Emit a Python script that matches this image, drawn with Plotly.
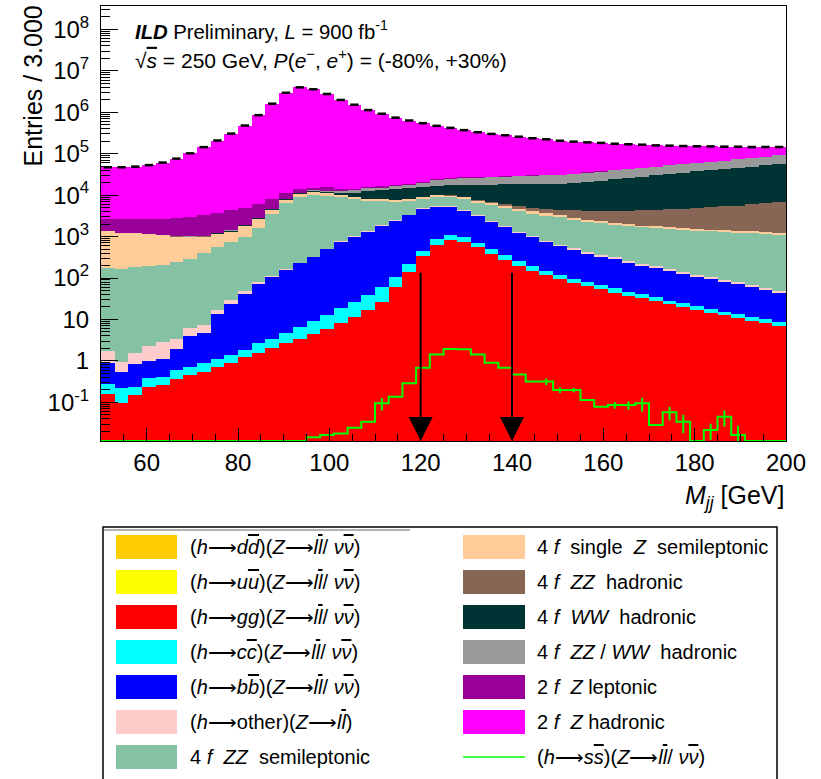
import numpy as np
import plotly.graph_objects as go

# ---- binning: 50 bins of 3 GeV between 50 and 200 GeV ----
N_BINS = 50
X_LO, X_HI = 50.0, 200.0
BIN_W = (X_HI - X_LO) / N_BINS
edges = X_LO + BIN_W * np.arange(N_BINS + 1)
centers = edges[:-1] + BIN_W / 2

# ---- THStack heights: each list is the running sum up to and including that process ----
stack_hdd = [0.0] * N_BINS
stack_huu = [0.0] * N_BINS
stack_hgg = [0.16, 0.098, 0.148, 0.24, 0.26, 0.36, 0.46, 0.55, 0.70, 0.91,
             1.22, 1.52, 2.0, 2.66, 3.3, 4.5, 6.0, 8.4, 11.7, 16.9,
             26.9, 60, 140, 340, 625, 830, 755, 550, 380, 272,
             200, 151, 118, 93, 77, 64, 54, 44.3, 37, 32.5,
             27.4, 23.2, 19.6, 16.9, 14.6, 12.6, 10.8, 9.3, 8.1, 6.9]
stack_hcc = [0.28, 0.22, 0.24, 0.39, 0.40, 0.60, 0.70, 0.875, 1.11, 1.39,
             1.83, 2.75, 3.4, 4.6, 6.5, 9.2, 13, 18.6, 27, 39,
             60, 108, 215, 448, 860, 1070, 980, 710, 493, 354,
             258, 195, 151, 118, 96, 81, 69, 57, 47, 41,
             34, 28.3, 24.5, 21, 17.6, 15.4, 13.5, 11.7, 10, 8.7]
stack_hbb = [0.9, 0.55, 0.86, 0.98, 1.11, 1.9, 4.0, 4.6, 13.3, 24,
             41, 70, 104, 156, 226, 315, 490, 740, 1000, 1300,
             1800, 2340, 3250, 4550, 5250, 5070, 4200, 3150, 2280, 1670,
             1240, 960, 755, 590, 475, 380, 327, 282, 235, 198,
             172, 148, 125, 108, 93, 81, 70.5, 60.7, 51.5, 42.7]
stack_hother = [1.76, 0.96, 1.52, 2.33, 2.8, 3.4, 6.1, 7.5, 16.9, 29.5,
                48.5, 79, 114, 165, 235, 325, 515, 775, 1050, 1365,
                1890, 2460, 3410, 4770, 5500, 5320, 4410, 3310, 2400, 1760,
                1310, 1015, 800, 630, 530, 425, 366, 316, 263, 222,
                193, 166, 140, 121, 104, 91, 79, 68, 58, 48]
stack_4f_zz_sl = [178, 168, 187, 195, 205, 244, 293, 395, 550, 755,
                  1000, 1610, 3500, 6600, 9200, 10200, 9500, 8900, 7950, 7330,
                  7200, 6840, 7200, 7950, 8900, 8900, 7950, 6600, 5700, 4800,
                  4070, 3500, 3150, 2920, 2500, 2290, 2090, 1910, 1800, 1670,
                  1590, 1500, 1450, 1390, 1335, 1290, 1245, 1200, 1150, 1110]
stack_4f_sz_sl = [1380, 1200, 1200, 1135, 1070, 1000, 960, 1000, 1150, 1310,
                  1800, 2630, 4370, 7600, 10500, 12000, 11000, 10000, 8900, 8200,
                  8000, 7600, 8100, 8900, 9900, 9800, 8900, 7330, 6300, 5450,
                  4700, 4070, 3630, 3320, 2780, 2540, 2320, 2120, 2000, 1850,
                  1760, 1670, 1610, 1540, 1480, 1430, 1380, 1330, 1280, 1240]
stack_4f_zz_h = [1385, 1205, 1205, 1140, 1075, 1006, 967, 1008, 1160, 1322,
                 1815, 2650, 4400, 7640, 10550, 12055, 11060, 10065, 8970, 8275,
                 8080, 7685, 8195, 9010, 10030, 9960, 9100, 7630, 6720, 6000,
                 5380, 4870, 4550, 4370, 4370, 4220, 4220, 4220, 4220, 4300,
                 4370, 4550, 4700, 4900, 5070, 5370, 5560, 6000, 6330, 6700]
stack_4f_ww_h = [1395, 1215, 1215, 1155, 1090, 1025, 997, 1048, 1220, 1400,
                 1915, 2800, 4650, 8040, 11050, 12850, 12060, 11500, 11500, 12500,
                 13300, 13800, 14600, 15900, 16800, 17200, 17400, 17600, 17900, 18200,
                 18400, 18500, 18550, 18600, 19300, 21100, 22300, 24000, 25900, 27900,
                 30000, 32300, 34800, 37600, 40500, 43600, 46000, 49000, 52700, 56500]
stack_4f_zzww_h = [1400, 1220, 1220, 1160, 1100, 1030, 1005, 1060, 1235, 1420,
                   1945, 2840, 4710, 8140, 11200, 13150, 12560, 12500, 13000, 14500,
                   15200, 16300, 17600, 20000, 23000, 24500, 25500, 26300, 27000, 27800,
                   28600, 29400, 30100, 30700, 32300, 34800, 36800, 39700, 42800, 45200,
                   48500, 52300, 56400, 60700, 63900, 67600, 73200, 77600, 84500, 93000]
stack_2f_z_l = [2700, 2620, 2620, 2650, 2700, 2800, 2920, 3320, 3800, 4370,
                4900, 6000, 7950, 11000, 14300, 15100, 15400, 14000, 14400, 15800,
                16400, 17500, 18800, 21200, 24300, 25800, 26700, 27400, 28000, 28700,
                29400, 30100, 30700, 31200, 32750, 35220, 37200, 40080, 43160, 45540,
                48820, 52600, 56690, 60980, 64170, 67860, 73450, 77840, 84730, 93220]
stack_2f_z_h = [47000, 47000, 48700, 53000, 61000, 76000, 102000, 144000, 208000, 305000,
                478000, 850000, 1610000, 2950000, 3990000, 3580000, 2760000, 1980000, 1520000, 1130000,
                920000, 740000, 632000, 545000, 470000, 420000, 370000, 330000, 300000, 278000,
                257000, 236000, 223000, 205000, 195000, 188000, 182000, 174000, 169000, 165000,
                159000, 156000, 153000, 151000, 150000, 148000, 147000, 145000, 145000, 145000]

# ---- h -> s sbar signal, drawn as an unstacked line with its MC errors ----
h_ss = [0, 0, 0, 0, 0, 0, 0, 0, 0, 0,
        0, 0, 0, 0, 0, 0.0144, 0.0163, 0.0178, 0.0245, 0.034,
        0.095, 0.137, 0.29, 0.685, 1.42, 1.94, 1.92, 1.42, 0.905, 0.685,
        0.47, 0.32, 0.32, 0.199, 0.199, 0.114, 0.0785, 0.086, 0.086, 0.0945,
        0.0284, 0.0575, 0.034, 0, 0.0215, 0.045, 0.0163, 0, 0, 0]
h_ss_err = [0, 0, 0, 0, 0, 0, 0, 0, 0, 0,
            0, 0, 0, 0, 0, 0, 0, 0, 0, 0,
            0.032, 0, 0, 0, 0, 0, 0, 0, 0, 0,
            0, 0, 0.06, 0.03, 0.025, 0, 0, 0.016, 0.02, 0.035,
            0, 0.021, 0.016, 0, 0.009, 0.019, 0.011, 0, 0, 0]

# ---- mass window cuts shown as arrows ----
cut_values = [120, 140]
cut_arrow_top = 145

# ---- process styling (bottom of the stack first) ----
stack_lists = [stack_hdd, stack_huu, stack_hgg, stack_hcc, stack_hbb, stack_hother,
               stack_4f_zz_sl, stack_4f_sz_sl, stack_4f_zz_h, stack_4f_ww_h,
               stack_4f_zzww_h, stack_2f_z_l, stack_2f_z_h]
stack_colors = ["#FFCC00", "#FFFF00", "#FF0000", "#00FFFF", "#0000FF", "#FFCCCC",
                "#85C1A3", "#FFCC99", "#876656", "#003333", "#999999", "#990099",
                "#FF00FF"]
SS_COLOR = "#00FF00"


def bar(s):
    """antiparticle: letter with an overline"""
    return f"<span style='text-decoration:overline'>{s}</span>"


NB = "\u00a0"
ARR = "\u27f6"
ZLL = f"(<i>Z</i>{ARR}<i>l{bar('l')}</i>/{NB}<i>ν{bar('ν')}</i>)"
stack_labels = [
    f"(<i>h</i>{ARR}<i>d{bar('d')}</i>){ZLL}",
    f"(<i>h</i>{ARR}<i>u{bar('u')}</i>){ZLL}",
    f"(<i>h</i>{ARR}<i>gg</i>){ZLL}",
    f"(<i>h</i>{ARR}<i>c{bar('c')}</i>){ZLL}",
    f"(<i>h</i>{ARR}<i>b{bar('b')}</i>){ZLL}",
    f"(<i>h</i>{ARR}other)(<i>Z</i>{ARR}<i>l{bar('l')}</i>)",
    f"4<i>{NB}f</i>{NB}{NB}<i>ZZ</i>{NB}{NB}semileptonic",
    f"4<i>{NB}f</i>{NB}{NB}single{NB}{NB}<i>Z</i>{NB}{NB}semileptonic",
    f"4<i>{NB}f</i>{NB}{NB}<i>ZZ</i>{NB}{NB}hadronic",
    f"4<i>{NB}f</i>{NB}{NB}<i>WW</i>{NB}{NB}hadronic",
    f"4<i>{NB}f</i>{NB}{NB}<i>ZZ</i>{NB}/{NB}<i>WW</i>{NB}{NB}hadronic",
    f"2<i>{NB}f</i>{NB}{NB}<i>Z</i>{NB}leptonic",
    f"2<i>{NB}f</i>{NB}{NB}<i>Z</i>{NB}hadronic",
]
ss_label = f"(<i>h</i>{ARR}<i>s{bar('s')}</i>){ZLL}"

FONT = "Liberation Sans, Arial, Helvetica, sans-serif"
Y_LOG_MIN, Y_LOG_MAX = -1.933, 8.564
y_floor = 10 ** Y_LOG_MIN

fig = go.Figure()

# THStack style: every cumulative histogram filled from the axis, top process first
for vals, col in reversed(list(zip(stack_lists, stack_colors))):
    fig.add_trace(go.Bar(x=centers, y=vals, width=BIN_W, marker_color=col,
                         marker_line_width=0, showlegend=False, hoverinfo="skip"))

# short black markers on top of the stack total
fig.add_trace(go.Scatter(x=centers, y=stack_2f_z_h, mode="markers",
                         marker=dict(symbol="line-ew", size=6,
                                     line=dict(width=2.5, color="black")),
                         showlegend=False, hoverinfo="skip"))

# signal histogram outline; empty bins run along the lower edge of the frame
ss = np.asarray(h_ss, dtype=float)
ss_drawn = np.where(ss > 0, ss, y_floor)
fig.add_trace(go.Scatter(x=edges, y=np.append(ss_drawn, ss_drawn[-1]), mode="lines",
                         line=dict(color=SS_COLOR, width=2, shape="hv"),
                         showlegend=False, hoverinfo="skip"))
err = np.asarray(h_ss_err, dtype=float)
sel = err > 0
fig.add_trace(go.Scatter(x=centers[sel], y=ss[sel], mode="markers",
                         marker=dict(size=1, color=SS_COLOR),
                         error_y=dict(type="data", array=err[sel], thickness=2,
                                      width=0, color=SS_COLOR),
                         showlegend=False, hoverinfo="skip"))

# cut arrows
for xc in cut_values:
    fig.add_annotation(x=xc, y=Y_LOG_MIN, ax=xc, ay=np.log10(cut_arrow_top),
                       xref="x", yref="y", axref="x", ayref="y", text="",
                       showarrow=True, arrowhead=2, arrowsize=2.4, arrowwidth=2,
                       arrowcolor="black")

# ---- frame geometry (pixels) ----
W, H = 821, 779
PL, PR, PT, PB = 101, 786, 6, 441


def xp(px):
    return (px - PL) / (PR - PL)


def yp(py):
    return (PB - py) / (PB - PT)


decades = list(range(-1, 9))
y_tickvals = [10.0 ** d for d in decades]
y_ticktext = ["10<sup>-1</sup>" if d == -1 else "1" if d == 0 else "10" if d == 1
              else f"10<sup>{d}</sup>" for d in decades]
y_minor = [m * 10.0 ** d for d in range(-2, 9) for m in range(2, 10)]

fig.update_layout(
    width=W, height=H,
    margin=dict(l=PL, r=W - PR, t=PT, b=H - PB, pad=0),
    paper_bgcolor="white", plot_bgcolor="white",
    barmode="overlay", bargap=0, showlegend=False,
    font=dict(family=FONT, color="black"),
)
fig.update_xaxes(range=[X_LO, X_HI], tickmode="linear", tick0=0, dtick=20,
                 ticks="inside", ticklen=13, tickwidth=1, tickcolor="black",
                 minor=dict(ticks="inside", tick0=0, dtick=5, ticklen=7,
                            tickwidth=1, tickcolor="black"),
                 showline=True, mirror=True, linecolor="black", linewidth=1,
                 showgrid=False, zeroline=False, tickfont=dict(size=24),
                 ticklabelstandoff=0)
fig.update_yaxes(type="log", range=[Y_LOG_MIN, Y_LOG_MAX], tickmode="array",
                 tickvals=y_tickvals, ticktext=y_ticktext,
                 ticks="inside", ticklen=17, tickwidth=1, tickcolor="black",
                 minor=dict(tickmode="array", tickvals=y_minor, ticks="inside",
                            ticklen=9, tickwidth=1, tickcolor="black"),
                 showline=True, mirror=True, linecolor="black", linewidth=1,
                 showgrid=False, zeroline=False, tickfont=dict(size=24),
                 ticklabelstandoff=6)

# axis titles
fig.add_annotation(xref="paper", yref="paper", x=xp(33), y=yp(4), text="Entries / 3.000",
                   textangle=-90, showarrow=False, xanchor="center", yanchor="top",
                   font=dict(size=25))
fig.add_annotation(xref="paper", yref="paper", x=xp(786), y=yp(497),
                   text="<i>M</i><sub><i>jj</i></sub> [GeV]", showarrow=False,
                   xanchor="right", yanchor="middle", font=dict(size=25))

# header text
fig.add_annotation(xref="paper", yref="paper", x=xp(133), y=yp(30),
                   text="<b><i>ILD</i></b> Preliminary, <i>L</i> = 900 fb<sup>-1</sup>",
                   showarrow=False, xanchor="left", yanchor="middle", font=dict(size=20.3))
fig.add_annotation(xref="paper", yref="paper", x=xp(133), y=yp(59),
                   text=f"√<span style='text-decoration:overline'><i>s</i></span> = 250 GeV,"
                        f" <i>P</i>(<i>e</i><sup>−</sup>, <i>e</i><sup>+</sup>) = (-80%, +30%)",
                   showarrow=False, xanchor="left", yanchor="middle", font=dict(size=21))

# ---- legend box below the frame ----
shapes = [
    dict(type="rect", xref="paper", yref="paper", x0=xp(103), x1=xp(777),
         y0=yp(800), y1=yp(527), line=dict(color="black", width=1.5),
         fillcolor="rgba(0,0,0,0)"),
    dict(type="line", xref="paper", yref="paper", x0=xp(104), x1=xp(410),
         y0=yp(530), y1=yp(530), line=dict(color="#999999", width=1.5)),
]
ROW0, ROW_STEP = 547, 35
entries = [(lab, col, "box") for lab, col in zip(stack_labels, stack_colors)]
entries.append((ss_label, SS_COLOR, "line"))
for i, (lab, col, kind) in enumerate(entries):
    column, row = divmod(i, 7)
    sx0, sx1, tx = (116, 177, 188) if column == 0 else (463, 525, 535)
    cy = ROW0 + ROW_STEP * row
    if kind == "box":
        shapes.append(dict(type="rect", xref="paper", yref="paper",
                           x0=xp(sx0), x1=xp(sx1), y0=yp(cy + 12), y1=yp(cy - 12),
                           fillcolor=col, line=dict(width=0)))
    else:
        shapes.append(dict(type="line", xref="paper", yref="paper",
                           x0=xp(sx0), x1=xp(sx1), y0=yp(cy), y1=yp(cy),
                           line=dict(color=col, width=1.5)))
    fig.add_annotation(xref="paper", yref="paper", x=xp(tx), y=yp(cy), text=lab,
                       showarrow=False, xanchor="left", yanchor="middle",
                       font=dict(size=20))
fig.update_layout(shapes=shapes)

fig.write_html("out.html")
